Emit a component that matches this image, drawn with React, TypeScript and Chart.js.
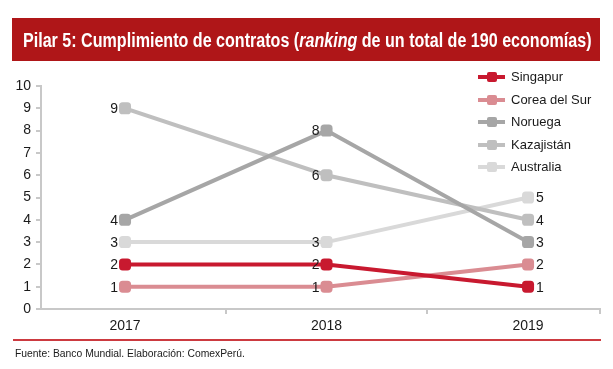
import React, { useEffect, useRef } from "react";
import { Chart, registerables } from "chart.js";

Chart.register(...registerables);

const categories = ["2017", "2018", "2019"];
const seriesNames = ["Singapur", "Corea del Sur", "Noruega", "Kazajistán", "Australia"];
const singapur = [2, 2, 1];
const corea = [1, 1, 2];
const noruega = [4, 8, 3];
const kazajistan = [9, 6, 4];
const australia = [3, 3, 5];
const yTicks = [0, 1, 2, 3, 4, 5, 6, 7, 8, 9, 10];

const colors = ["#C8192F", "#DA8C92", "#A6A6A6", "#BFBFBF", "#D9D9D9"];
const FONT = '"Liberation Sans", Arial, sans-serif';

const seriesValues = [singapur, corea, noruega, kazajistan, australia];

const labelPlugin = {
  id: "pointLabels",
  afterDatasetsDraw(chart: any) {
    const ctx = chart.ctx;
    ctx.save();
    ctx.font = `14px ${FONT}`;
    ctx.fillStyle = "#1a1a1a";
    ctx.textBaseline = "middle";
    chart.data.datasets.forEach((ds: any, di: number) => {
      const meta = chart.getDatasetMeta(di);
      meta.data.forEach((pt: any, i: number) => {
        const v = ds.data[i].y;
        if (i < categories.length - 1) {
          ctx.textAlign = "right";
          ctx.fillText(String(v), pt.x - 7, pt.y + 1);
        } else {
          ctx.textAlign = "left";
          ctx.fillText(String(v), pt.x + 8, pt.y + 1);
        }
      });
    });
    ctx.restore();
  },
};

const X_MIN = -0.417;
const X_MAX = 2.357;

export default function App() {
  const ref = useRef<HTMLCanvasElement>(null);
  useEffect(() => {
    const chart = new Chart(ref.current!, {
      type: "line",
      data: {
        datasets: seriesNames.map((name, si) => ({
          label: name,
          data: seriesValues[si].map((v, i) => ({ x: i, y: v })),
          borderColor: colors[si],
          backgroundColor: colors[si],
          pointBackgroundColor: colors[si],
          pointBorderColor: colors[si],
          pointBorderWidth: 0,
          borderWidth: 4,
          pointStyle: "rectRounded",
          pointRadius: 7,
          tension: 0,
        })),
      },
      options: {
        responsive: false,
        animation: false,
        devicePixelRatio: 1,
        layout: { padding: { left: 0, top: 86, right: 13, bottom: 30 } },
        plugins: { legend: { display: false }, tooltip: { enabled: false }, title: { display: false } },
        scales: {
          x: {
            type: "linear",
            min: X_MIN,
            max: X_MAX,
            afterBuildTicks: (scale: any) => {
              scale.ticks = [0, 0.5, 1, 1.5, 2, X_MAX].map((v) => ({ value: v }));
            },
            afterFit: (scale: any) => {
              scale.height = 30;
            },
            ticks: {
              autoSkip: false,
              maxRotation: 0,
              padding: 4,
              color: "#1a1a1a",
              font: { family: FONT, size: 14 },
              callback: (v: any) => (Number.isInteger(v) ? categories[v] : ""),
            },
            grid: {
              drawOnChartArea: false,
              tickLength: 5,
              lineWidth: 2,
              tickColor: (c: any) =>
                c.tick && Number.isInteger(c.tick.value) ? "rgba(0,0,0,0)" : "#C8C8C8",
            },
            border: { color: "#C8C8C8", width: 2 },
          },
          y: {
            min: 0,
            max: 10,
            afterBuildTicks: (scale: any) => {
              scale.ticks = yTicks.map((v) => ({ value: v }));
            },
            afterFit: (scale: any) => {
              scale.width = 41;
            },
            ticks: {
              padding: 5,
              color: "#1a1a1a",
              font: { family: FONT, size: 14 },
            },
            grid: { drawOnChartArea: false, tickLength: 5, lineWidth: 2, color: "#C8C8C8" },
            border: { color: "#C8C8C8", width: 2 },
          },
        },
      },
      plugins: [labelPlugin],
    } as any);
    return () => chart.destroy();
  }, []);

  return (
    <div style={{ position: "absolute", left: 0, top: 0, width: 613, height: 369, background: "#fff", fontFamily: FONT, overflow: "hidden" }}>
      <canvas ref={ref} width={613} height={369} style={{ position: "absolute", left: 0, top: 0 }} />
      <div
        style={{
          position: "absolute",
          left: 12,
          top: 18,
          width: 588,
          height: 43,
          background: "#AF1618",
          color: "#fff",
          fontWeight: "bold",
          whiteSpace: "nowrap",
        }}
      >
        <span
          style={{
            position: "absolute",
            left: 11,
            top: 0,
            fontSize: 19.5,
            lineHeight: "44px",
            transform: "scaleX(0.825)",
            transformOrigin: "0 50%",
          }}
        >
          Pilar 5: Cumplimiento de contratos (<i>ranking</i> de un total de 190 economías)
        </span>
      </div>
      {seriesNames.map((name, si) => (
        <div key={name} style={{ position: "absolute", left: 478, top: 77 + si * 22.5 - 10, height: 20, width: 130 }}>
          <div style={{ position: "absolute", left: 0, top: 8, width: 27, height: 4, background: colors[si] }} />
          <div style={{ position: "absolute", left: 9, top: 5, width: 10, height: 10, borderRadius: 2, background: colors[si] }} />
          <div style={{ position: "absolute", left: 33, top: 0, lineHeight: "20px", fontSize: 13, color: "#1a1a1a", whiteSpace: "nowrap" }}>{name}</div>
        </div>
      ))}
      <div style={{ position: "absolute", left: 13, top: 339, width: 588, height: 2, background: "#CC3A40" }} />
      <div
        style={{
          position: "absolute",
          left: 15,
          top: 346,
          fontSize: 11,
          color: "#1a1a1a",
          whiteSpace: "nowrap",
          lineHeight: "14px",
          transform: "scaleX(0.94)",
          transformOrigin: "0 50%",
        }}
      >
        Fuente: Banco Mundial. Elaboración: ComexPerú.
      </div>
    </div>
  );
}
